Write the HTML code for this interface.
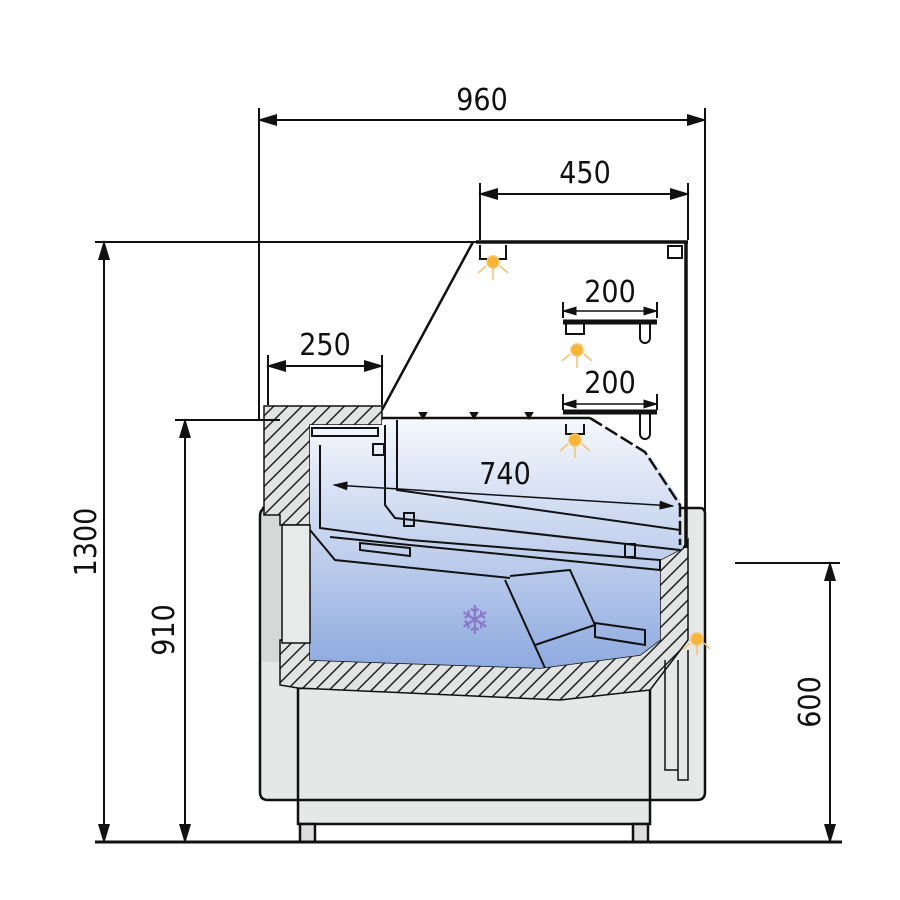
<!DOCTYPE html>
<html><head><meta charset="utf-8"><style>
html,body{margin:0;padding:0;background:#fff;width:900px;height:900px;overflow:hidden}
text{font-family:"DejaVu Sans Condensed","DejaVu Sans","Liberation Sans",sans-serif;font-size:30px;fill:#111}
</style></head><body>
<svg width="900" height="900" viewBox="0 0 900 900" xmlns="http://www.w3.org/2000/svg">
<defs>
<pattern id="h" width="10" height="10" patternUnits="userSpaceOnUse" patternTransform="rotate(45)">
<rect width="10" height="10" fill="#e2e3e3"/><line x1="0" y1="0" x2="0" y2="10" stroke="#222" stroke-width="3"/>
</pattern>
<linearGradient id="b" x1="0" y1="0" x2="0" y2="1">
<stop offset="0" stop-color="#f4f7fc"/><stop offset="0.5" stop-color="#c4d2ee"/><stop offset="1" stop-color="#8eaadf"/>
</linearGradient>
<marker id="a" markerWidth="10" markerHeight="8" refX="9" refY="4" orient="auto-start-reverse"><path d="M0,1 L10,4 L0,7z" fill="#111"/></marker>
</defs>
<g stroke="#111" stroke-width="2.5" fill="none">
<path d="M262,508 H700 Q705,508 705,514 V792 Q705,800 697,800 H268 Q260,800 260,792 V516 Q260,508 268,508Z" fill="#e6e7e7"/>
<rect x="298" y="688" width="352" height="136" fill="#e6e7e7"/>
<line x1="298" y1="800" x2="650" y2="800"/>
<rect x="300" y="824" width="15" height="18" fill="#ddd"/><rect x="633" y="824" width="15" height="18" fill="#ddd"/>
<rect x="262" y="512" width="20" height="150" fill="#d6d7d7" stroke="none"/>
<path d="M264,406 H382 V425 H310 V525 H280 V515 H264Z" fill="url(#h)" stroke-width="1.5"/>
<path d="M280,640 H310 V660 L540,668 L640,655 L660,640 V560 L683,548 L688,540 L688,640 L650,690 L560,700 L298,688 L280,685Z" fill="url(#h)" stroke-width="1.5"/>
<path d="M310,425 H382 V420 H590 L650,455 L680,500 L683,548 L660,560 V640 L640,655 L540,668 L310,660Z" fill="url(#b)" stroke="none"/>
<rect x="282" y="525" width="28" height="118" fill="#e8e9e9" stroke-width="1.5"/>
<line x1="382" y1="410" x2="473" y2="242"/>
<line x1="476" y1="242" x2="688" y2="242" stroke-width="3.5"/>
<line x1="686" y1="242" x2="686" y2="548" stroke-width="3.5"/>
<rect x="668" y="246" width="14" height="12" stroke-width="2"/>
<line x1="705" y1="108" x2="705" y2="528" stroke-width="2"/>
<line x1="259" y1="108" x2="259" y2="420" stroke-width="2"/>
<line x1="382" y1="418" x2="590" y2="418"/>
<path d="M590,418 L645,452 L680,505 L680,545" stroke-dasharray="14,4"/>
<path d="M563,322 H657" stroke-width="5"/>
<path d="M566,324 v10 h18 v-10 M640,324 v14 a5,5 0 0 0 10,0 v-14" stroke-width="2"/>
<path d="M563,412 H657" stroke-width="5"/>
<path d="M566,424 v10 h18 v-10 M640,414 v20 a5,5 0 0 0 10,0 v-20" stroke-width="2"/>
<path d="M480,245 v14 h26 v-14" stroke-width="2"/>
<g stroke-width="2">
<path d="M312,436 H378 V428 H312Z"/>
<rect x="373" y="444" width="11" height="11"/>
<path d="M385,425 V505 L395,518 L680,550"/>
<path d="M397,420 V490 L680,530"/>
<rect x="404" y="513" width="10" height="13"/>
<rect x="625" y="544" width="10" height="13"/>
<path d="M320,445 V528 L410,540 L660,560 V570 L330,537"/>
<path d="M360,543 L410,548 L410,556 L360,550Z"/>
<path d="M310,530 L335,560 L510,578"/>
<path d="M505,580 L545,668 M510,576 L570,570 L595,625 L535,645"/>
<path d="M595,623 L645,630 L645,645 L595,637Z"/>
</g>
<g stroke-width="2">
<line x1="259" y1="120" x2="705" y2="120" marker-start="url(#a)" marker-end="url(#a)"/>
<line x1="480" y1="183" x2="480" y2="240"/><line x1="688" y1="183" x2="688" y2="240"/>
<line x1="480" y1="194" x2="688" y2="194" marker-start="url(#a)" marker-end="url(#a)"/>
<line x1="268" y1="355" x2="268" y2="405"/><line x1="382" y1="355" x2="382" y2="405"/>
<line x1="268" y1="366" x2="382" y2="366" marker-start="url(#a)" marker-end="url(#a)"/>
<line x1="563" y1="302" x2="563" y2="318"/><line x1="657" y1="302" x2="657" y2="318"/>
<line x1="563" y1="311" x2="657" y2="311" stroke-width="1.5" marker-start="url(#a)" marker-end="url(#a)"/>
<line x1="563" y1="394" x2="563" y2="410"/><line x1="657" y1="394" x2="657" y2="410"/>
<line x1="563" y1="404" x2="657" y2="404" stroke-width="1.5" marker-start="url(#a)" marker-end="url(#a)"/>
<line x1="334" y1="485" x2="673" y2="506" stroke-width="1.5" marker-start="url(#a)" marker-end="url(#a)"/>
<line x1="95" y1="242" x2="476" y2="242"/>
<line x1="104" y1="242" x2="104" y2="842" marker-start="url(#a)" marker-end="url(#a)"/>
<line x1="175" y1="420" x2="280" y2="420"/>
<line x1="185" y1="420" x2="185" y2="842" marker-start="url(#a)" marker-end="url(#a)"/>
<line x1="735" y1="563" x2="840" y2="563"/>
<line x1="830" y1="563" x2="830" y2="842" marker-start="url(#a)" marker-end="url(#a)"/>
</g>
<line x1="95" y1="842" x2="842" y2="842" stroke-width="3"/>
<path d="M665,660 V770 H678 V660 M678,660 V780 H688 V650" stroke-width="1.5"/>
</g>
<g fill="#111">
<path d="M420,413 l6,0 -3,5z M471,413 l6,0 -3,5z M526,413 l6,0 -3,5z" stroke="#111" stroke-width="2"/>
</g>
<g fill="#f7b531" stroke="#f7c26a" stroke-width="1.5">
<circle cx="493" cy="262" r="6"/><path d="M493,268 v12 M486,266 l-8,7 M500,266 l8,7"/>
<circle cx="577" cy="350" r="6"/><path d="M577,356 v12 M570,354 l-8,7 M584,354 l8,7"/>
<circle cx="575" cy="440" r="6"/><path d="M575,446 v12 M568,444 l-8,7 M582,444 l8,7"/>
<circle cx="697" cy="639" r="6"/><path d="M697,645 v10 M690,643 l-6,6 M704,643 l6,6"/>
</g>
<text x="475" y="634" text-anchor="middle" style="font-size:40px;fill:#8a78c8">❄</text>
<text x="482" y="110" text-anchor="middle">960</text>
<text x="585" y="183" text-anchor="middle">450</text>
<text x="325" y="355" text-anchor="middle">250</text>
<text x="610" y="302" text-anchor="middle">200</text>
<text x="610" y="393" text-anchor="middle">200</text>
<text x="505" y="484" text-anchor="middle">740</text>
<text transform="translate(96,542) rotate(-90)" text-anchor="middle">1300</text>
<text transform="translate(174,630) rotate(-90)" text-anchor="middle">910</text>
<text transform="translate(820,702) rotate(-90)" text-anchor="middle">600</text>
</svg>
</body></html>
